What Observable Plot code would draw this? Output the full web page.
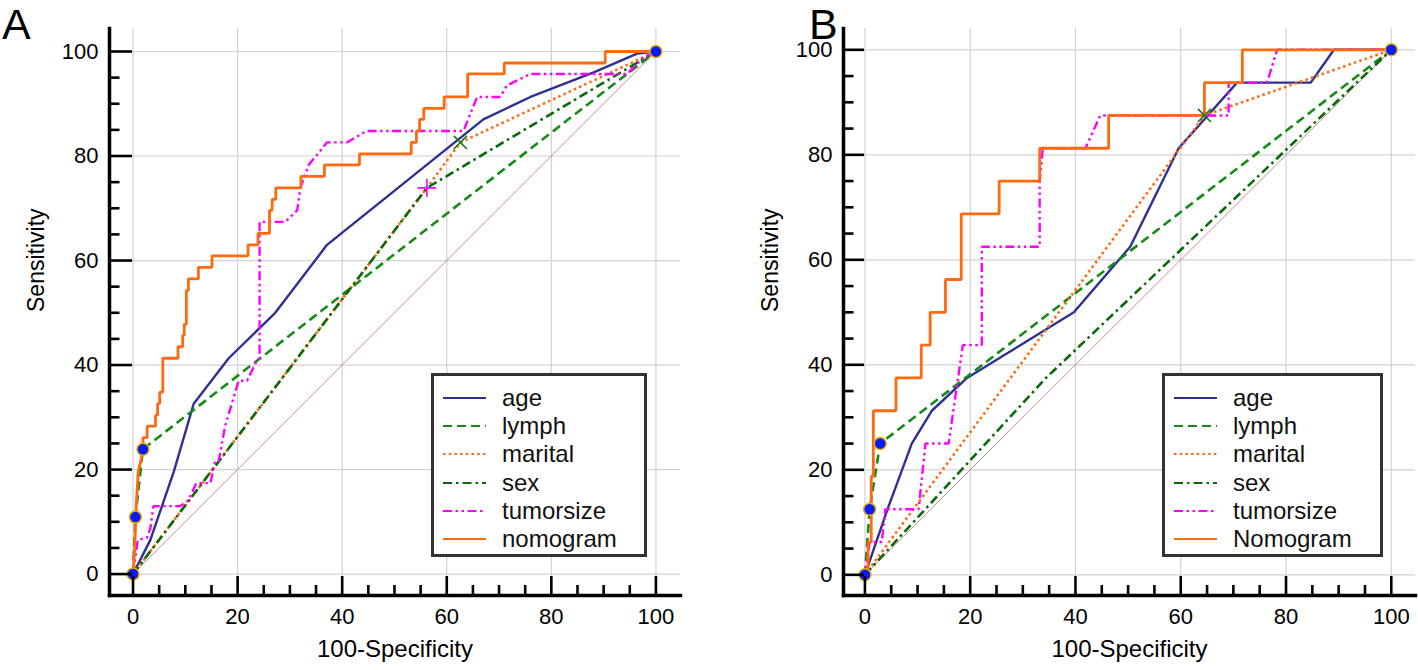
<!DOCTYPE html>
<html><head><meta charset="utf-8">
<script src="https://cdn.jsdelivr.net/npm/d3@7"></script>
<script src="https://cdn.jsdelivr.net/npm/@observablehq/plot@0.6"></script>
<style>
body{margin:0;background:#fff;font-family:"Liberation Sans",Arial,sans-serif;}
#wrap{position:relative;width:1418px;height:670px;overflow:hidden;background:#fff}
.panel{position:absolute;top:0;width:709px;height:670px}
.letter{position:absolute;top:0;font-size:43px;line-height:48px;color:#000}
.legend{position:absolute;border:3px solid #333;background:#fff;box-sizing:border-box}
.lrow{position:absolute;left:0;height:28px;display:flex;align-items:center;font-size:24px;color:#111;white-space:nowrap}
.lrow svg{position:absolute;left:9px}
.lrow span{position:absolute;left:68px}
</style></head><body>
<div id="wrap">
  <div class="panel" id="pA" style="left:0"></div>
  <div class="panel" id="pB" style="left:709px"></div>
  <div class="letter" style="left:2px">A</div>
  <div class="letter" style="left:809px">B</div>
</div>
<script>
// ---------- data ----------
const seriesNames = ["age", "lymph", "marital", "sex", "tumorsize", "nomogram"];
const legendLabelsA = ["age", "lymph", "marital", "sex", "tumorsize", "nomogram"];
const legendLabelsB = ["age", "lymph", "marital", "sex", "tumorsize", "Nomogram"];
const majorTicks = [0, 20, 40, 60, 80, 100];
const minorTicks = [5, 10, 15, 25, 30, 35, 45, 50, 55, 65, 70, 75, 85, 90, 95];

// Panel A (100-Specificity, Sensitivity)
const ageA_x = [0, 3.3, 7.8, 11.6, 18.3, 27.2, 37.1, 67.0, 76.0, 88.1, 96.4, 100];
const ageA_y = [0, 6.5, 19.6, 32.6, 41.3, 50.0, 63.0, 87.0, 91.3, 96.0, 99.6, 100];
const lymphA_x = [0, 0.45, 1.9, 100];
const lymphA_y = [0, 10.9, 23.9, 100];
const maritalA_x = [0, 56.2, 62.6, 100];
const maritalA_y = [0, 73.9, 82.6, 100];
const sexA_x = [0, 56.2, 100];
const sexA_y = [0, 73.9, 100];
const tumorA_x = [0, 0.9, 2.7, 3.3, 3.9, 9.0, 10.6, 12.1, 14.8, 15.7, 16.4, 17.6, 20.2, 21.8, 23.7, 24.2, 24.2, 29.1, 31.4, 32.0, 33.6, 37.1, 40.9, 44.7, 63.2, 65.8, 70.2, 71.5, 76.0, 94.5, 97.3, 100];
const tumorA_y = [0, 6.5, 7.0, 8.7, 13.0, 13.0, 14.1, 17.4, 17.4, 21.7, 21.7, 28.3, 37.0, 37.0, 40.9, 41.3, 67.4, 67.4, 69.6, 73.9, 78.3, 82.6, 82.6, 84.8, 84.8, 91.3, 91.3, 93.5, 95.7, 95.7, 98.6, 100];
const nomoA_x = [0, 0.3, 0.6, 1.0, 1.5, 1.9, 1.9, 2.7, 2.7, 4.3, 4.3, 4.7, 4.7, 5.1, 5.1, 5.7, 5.7, 8.6, 8.6, 9.5, 9.5, 9.8, 9.8, 10.2, 10.2, 10.6, 10.6, 12.5, 12.5, 15.1, 15.1, 22.0, 22.0, 23.9, 23.9, 26.1, 26.1, 26.6, 26.6, 27.3, 27.3, 32.1, 32.1, 36.6, 36.6, 43.3, 43.3, 53.2, 53.2, 54.2, 54.2, 54.8, 54.8, 55.6, 55.6, 59.5, 59.5, 64.0, 64.0, 71.0, 71.0, 90.3, 90.3, 100];
const nomoA_y = [0, 4.3, 13.0, 19.6, 21.7, 23.9, 26.1, 26.1, 28.3, 28.3, 30.4, 30.4, 32.6, 32.6, 34.8, 34.8, 41.3, 41.3, 43.5, 43.5, 45.7, 45.7, 47.8, 47.8, 54.3, 54.3, 56.5, 56.5, 58.7, 58.7, 60.9, 60.9, 63.0, 63.0, 65.2, 65.2, 69.6, 69.6, 71.7, 71.7, 73.9, 73.9, 76.1, 76.1, 78.3, 78.3, 80.4, 80.4, 82.6, 82.6, 84.8, 84.8, 87.0, 87.0, 89.1, 89.1, 91.3, 91.3, 95.7, 95.7, 97.8, 97.8, 100, 100];
const dotsA_x = [0, 0.45, 1.9, 100];
const dotsA_y = [0, 10.9, 23.9, 100];
const timesA_x = [62.6], timesA_y = [82.6];
const plusA_x = [56.2], plusA_y = [73.9];

// Panel B
const ageB_x = [0, 4.3, 8.9, 12.7, 19.4, 39.7, 50.4, 59.6, 70.7, 84.7, 89.1, 100];
const ageB_y = [0, 12.5, 25, 31.25, 37.5, 50, 62.5, 81.25, 93.75, 93.75, 100, 100];
const lymphB_x = [0, 0.9, 2.9, 100];
const lymphB_y = [0, 12.5, 25, 100];
const maritalB_x = [0, 64.5, 100];
const maritalB_y = [0, 87.5, 100];
const sexB_x = [0, 34.4, 100];
const sexB_y = [0, 37.5, 100];
const tumorB_x = [0, 0.9, 3.2, 3.9, 10.2, 11.5, 15.9, 18.6, 22.2, 22.2, 33.2, 33.2, 33.8, 41.9, 44.7, 69.1, 69.1, 76.4, 78.3, 100];
const tumorB_y = [0, 6.25, 6.25, 12.5, 12.5, 25, 25, 43.75, 43.75, 62.5, 62.5, 75, 81.25, 81.25, 87.5, 87.5, 93.75, 93.75, 100, 100];
const nomoB_x = [0, 0.6, 0.6, 1.2, 1.2, 1.6, 1.6, 5.9, 5.9, 10.7, 10.7, 12.4, 12.4, 15.3, 15.3, 18.3, 18.3, 25.5, 25.5, 33.2, 33.2, 46.3, 46.3, 64.5, 64.5, 71.7, 71.7, 100];
const nomoB_y = [0, 0, 6.25, 6.25, 18.75, 18.75, 31.25, 31.25, 37.5, 37.5, 43.75, 43.75, 50, 50, 56.25, 56.25, 68.75, 68.75, 75, 75, 81.25, 81.25, 87.5, 87.5, 93.75, 93.75, 100, 100];
const dotsB_x = [0, 0.9, 2.9, 100];
const dotsB_y = [0, 12.5, 25, 100];
const timesB_x = [64.5], timesB_y = [87.5];

const diag_x = [0, 100], diag_y = [0, 100];

// ---------- styles ----------
const styles = {
  age:       {stroke: "#2e3192", strokeWidth: 2.4, dash: null},
  lymph:     {stroke: "#168a16", strokeWidth: 2.6, dash: "9,5"},
  marital:   {stroke: "#ff6a10", strokeWidth: 2.6, dash: "2.5,3.2"},
  sex:       {stroke: "#0a6a0a", strokeWidth: 2.6, dash: "9,4,2.5,4"},
  tumorsize: {stroke: "#ff00ff", strokeWidth: 2.4, dash: "9,3.5,2.5,3.5,2.5,3.5"},
  nomogram:  {stroke: "#ff6a10", strokeWidth: 2.8, dash: null}
};

const zip = (xs, ys) => xs.map((x, i) => ({x, y: ys[i]}));

function panel(o) {
  const W = 709, H = 670;
  const kx = (W - o.ml - o.mr) / (o.xd[1] - o.xd[0]);
  const ky = (H - o.mt - o.mb) / (o.yd[1] - o.yd[0]);
  const curveMarks = seriesNames.map(n => {
    const s = styles[n];
    return Plot.line(zip(o.series[n][0], o.series[n][1]), {
      x: "x", y: "y", stroke: s.stroke, strokeWidth: s.strokeWidth,
      strokeDasharray: s.dash || undefined, strokeLinejoin: "miter", strokeLinecap: "butt"
    });
  });
  return Plot.plot({
    width: W, height: H,
    marginLeft: o.ml, marginRight: o.mr, marginTop: o.mt, marginBottom: o.mb,
    style: {fontFamily: "'Liberation Sans', Arial, sans-serif", fontSize: "22px", color: "#000", background: "transparent", overflow: "visible"},
    x: {domain: o.xd, label: null},
    y: {domain: o.yd, label: null},
    marks: [
      Plot.gridX(majorTicks, {stroke: "#d2d2d2", strokeOpacity: 1, strokeWidth: 1.2}),
      Plot.gridY(majorTicks, {stroke: "#d2d2d2", strokeOpacity: 1, strokeWidth: 1.2}),
      Plot.line(zip(diag_x, diag_y), {x: "x", y: "y", stroke: "#c08080", strokeWidth: 0.9}),
      ...curveMarks,
      Plot.dot(zip(o.times[0], o.times[1]), {x: "x", y: "y", symbol: "times", r: 6, stroke: "#1a7a1a", strokeWidth: 1.6}),
      ...(o.plus ? [Plot.dot(zip(o.plus[0], o.plus[1]), {x: "x", y: "y", symbol: "plus", r: 6, stroke: "#ff00ff", strokeWidth: 1.6})] : []),
      Plot.dot(zip(o.dots[0], o.dots[1]), {x: "x", y: "y", r: 6, fill: "#0a1aff", stroke: "#e8b000", strokeWidth: 1.5}),
      // ticks (inward)
      Plot.ruleY(majorTicks, {x1: o.xd[0], x2: o.xd[0] + o.majLenY / kx, stroke: "#000", strokeWidth: 2.6}),
      Plot.ruleY(minorTicks, {x1: o.xd[0], x2: o.xd[0] + 10.5 / kx, stroke: "#000", strokeWidth: 2.6}),
      Plot.ruleX(majorTicks, {y1: o.yd[0], y2: o.yd[0] + 19 / ky, stroke: "#000", strokeWidth: 2.6}),
      Plot.ruleX(minorTicks, {y1: o.yd[0], y2: o.yd[0] + 10 / ky, stroke: "#000", strokeWidth: 2.6}),
      Plot.frame({anchor: "left", stroke: "#000", strokeWidth: 3.5}),
      Plot.frame({anchor: "bottom", stroke: "#000", strokeWidth: 3.5}),
      Plot.axisY(majorTicks, {tickSize: 0, tickPadding: 11, fontSize: 22}),
      Plot.axisX(majorTicks, {tickSize: 0, tickPadding: 13, fontSize: 22}),
      Plot.text(["Sensitivity"], {frameAnchor: "left", dx: o.ylabDx, rotate: -90, fontSize: 23}),
      Plot.text(["100-Specificity"], {frameAnchor: "bottom", dy: 61, fontSize: 24})
    ]
  });
}

const chartA = panel({
  ml: 109, mr: 29, mt: 28, mb: 75,
  xd: [-4.5, 104.7], yd: [-4.1, 104.4], majLenY: 23, ylabDx: -73,
  series: {age: [ageA_x, ageA_y], lymph: [lymphA_x, lymphA_y], marital: [maritalA_x, maritalA_y],
           sex: [sexA_x, sexA_y], tumorsize: [tumorA_x, tumorA_y], nomogram: [nomoA_x, nomoA_y]},
  dots: [dotsA_x, dotsA_y], times: [timesA_x, timesA_y], plus: [plusA_x, plusA_y]
});
const chartB = panel({
  ml: 134, mr: 3, mt: 28, mb: 75,
  xd: [-4.07, 104.6], yd: [-3.94, 104.06], majLenY: 21, ylabDx: -73,
  series: {age: [ageB_x, ageB_y], lymph: [lymphB_x, lymphB_y], marital: [maritalB_x, maritalB_y],
           sex: [sexB_x, sexB_y], tumorsize: [tumorB_x, tumorB_y], nomogram: [nomoB_x, nomoB_y]},
  dots: [dotsB_x, dotsB_y], times: [timesB_x, timesB_y], plus: null
});
document.getElementById("pA").appendChild(chartA);
document.getElementById("pB").appendChild(chartB);

// ---------- legends ----------
function legend(parent, left, top, width, height, labels) {
  const box = document.createElement("div");
  box.className = "legend";
  Object.assign(box.style, {left: left + "px", top: top + "px", width: width + "px", height: height + "px"});
  labels.forEach((lab, i) => {
    const s = styles[seriesNames[i]];
    const row = document.createElement("div");
    row.className = "lrow";
    row.style.top = (8 + i * 28.2) + "px";
    row.style.width = (width - 6) + "px";
    const svg = d3.create("svg").attr("width", 44).attr("height", 28);
    svg.append("line").attr("x1", 0).attr("x2", 43).attr("y1", 14).attr("y2", 14)
      .attr("stroke", s.stroke).attr("stroke-width", 2.2).attr("stroke-dasharray", s.dash || null);
    row.appendChild(svg.node());
    const sp = document.createElement("span");
    sp.textContent = lab;
    row.appendChild(sp);
    box.appendChild(row);
  });
  parent.appendChild(box);
}
const wrap = document.getElementById("wrap");
legend(wrap, 431, 373, 216, 184, legendLabelsA);
legend(wrap, 1162, 373, 221, 184, legendLabelsB);
</script>
</body></html>
